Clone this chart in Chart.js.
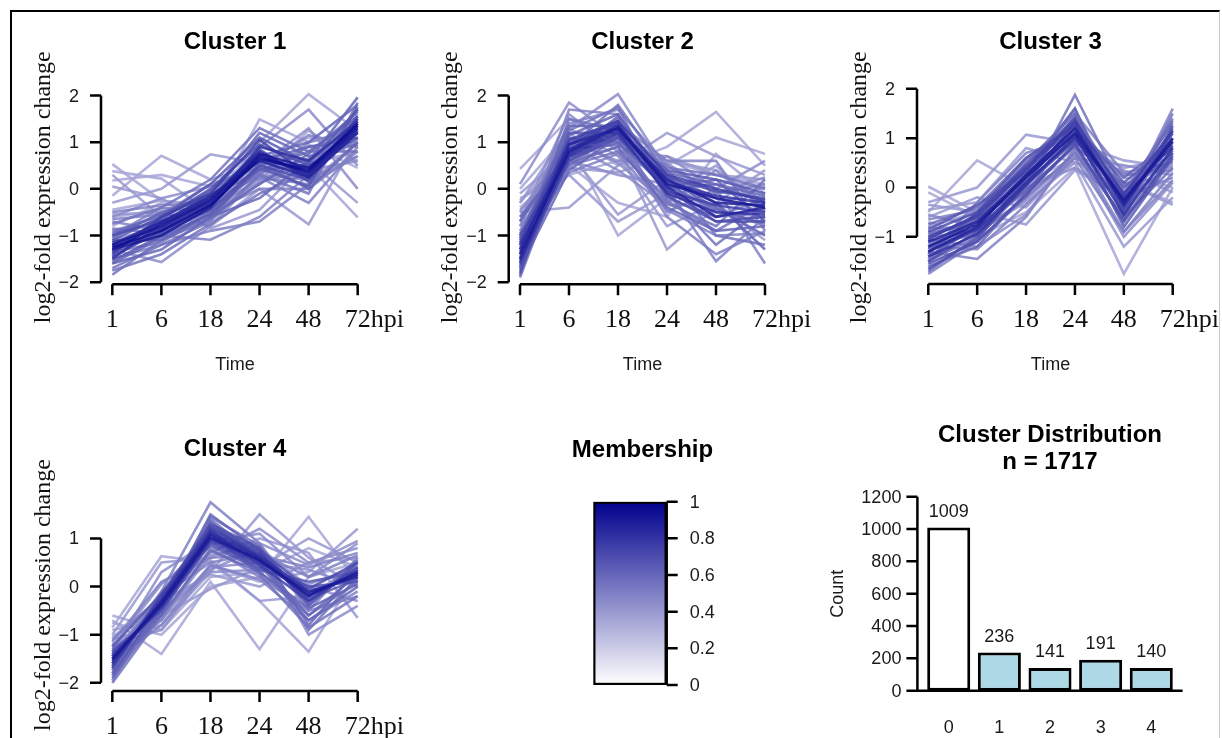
<!DOCTYPE html>
<html>
<head>
<meta charset="utf-8">
<script src="https://cdn.jsdelivr.net/npm/chart.js@4.4.0/dist/chart.umd.min.js"></script>
<style>
  body { margin: 0; background: #fff; }
  #page { position: relative; width: 1222px; height: 738px; overflow: hidden; background: #fff; }
  #page canvas { position: absolute; left: 0; top: 0; }
  #frame { position: absolute; left: 10px; top: 10px; width: 1207px; height: 760px;
           border-left: 2px solid #000; border-top: 2px solid #000; border-right: 1px solid #c8c8c8; }
</style>
</head>
<body>
<div id="page">
  <div id="frame"></div>
  <canvas id="c1" width="1222" height="738"></canvas>
  <canvas id="c2" width="1222" height="738"></canvas>
  <canvas id="c3" width="1222" height="738"></canvas>
  <canvas id="c4" width="1222" height="738"></canvas>
  <canvas id="cbar" width="1222" height="738"></canvas>
  <canvas id="cdist" width="1222" height="738"></canvas>
</div>
<script>
// time points (hours post inoculation)
const timeLabels = ['1', '6', '18', '24', '48', '72hpi'];

// cluster profiles, one row per gene: log2 fold change at each time point
const cluster1Profiles = [
  [0.53, -0.25, -0.35, 0.15, 0.55, 0.8],
  [0.38, 0.22, -0.5, 0.1, 0.95, 0.45],
  [0.3, -0.6, -0.05, 0.4, 0.2, 0.7],
  [0.18, 0.3, 0.05, 0.3, 1.25, 0.6],
  [0.05, -0.2, -0.85, -0.45, 0.6, 1.2],
  [-0.15, 0.71, 0.2, 0.55, 1.1, 0.9],
  [-0.3, 0.0, 0.74, 0.55, 0.5, 1.05],
  [-0.45, -0.25, -0.4, 1.49, 1.0, 1.2],
  [-0.6, -0.45, -0.3, 1.0, 2.03, 1.25],
  [-0.55, -0.5, -0.8, 0.0, -0.76, 1.1],
  [-0.8, -0.3, -0.6, 0.2, 0.5, -0.61],
  [-1.0, -0.7, -0.4, 0.7, 0.6, -0.3],
  [-0.9, -0.6, -0.1, 0.5, 1.3, 0.0],
  [-1.1, -0.8, -0.3, 0.9, 1.7, 0.5],
  [-1.3, -1.57, -0.8, 0.3, 0.2, 1.4],
  [-1.2, -1.0, -1.09, -0.6, 0.3, 1.6],
  [-1.5, -1.2, -0.9, -0.7, 0.1, 1.0],
  [-1.84, -1.1, -0.5, 0.4, 0.5, 1.5],
  [-1.6, -1.3, -0.6, -0.2, 0.6, 1.96],
  [-0.7, -0.9, -0.2, 0.25, -0.3, 0.9],
  [-1.0, -0.4, -0.5, 0.0, 0.0, 0.8],
  [-1.4, -0.9, -0.15, 0.6, 0.9, 1.1],
  [-1.1, -0.6, 0.1, 1.1, 0.55, 1.7],
  [-1.25, -0.95, -0.35, 0.85, 0.15, 1.45],
  [-1.35, -0.7, -0.25, 0.6, 0.45, 1.2],
  [-1.15, -0.85, -0.3, 0.75, 0.3, 1.35],
  [-1.3, -0.75, -0.2, 0.8, 0.25, 1.25],
  [-1.2, -0.8, -0.25, 0.7, 0.35, 1.3],
  [-1.45, -0.9, -0.45, 0.5, 0.2, 1.55],
  [-1.0, -0.65, 0.0, 0.95, 0.5, 1.1],
  [-1.55, -1.0, -0.55, 0.45, 0.05, 1.75],
  [-0.95, -0.55, -0.1, 1.2, 0.7, 0.95],
  [-1.7, -1.2, -0.7, 0.3, -0.1, 1.85],
  [-0.75, -0.4, 0.2, 1.3, 0.8, 0.8],
  [-1.25, -0.9, -0.35, 0.65, 0.4, 1.4],
  [-0.5, -0.35, -0.3, 0.3, 0.9, 1.0],
  [-0.65, -0.55, 0.1, 0.45, 1.15, 0.9],
  [-1.6, -1.05, -0.6, 0.1, 0.75, 1.65],
  [-0.85, -0.95, -0.45, 0.35, 0.65, 1.3],
  [-1.4, -0.6, -0.1, 1.05, 0.3, 1.5],
  [-1.1, -1.1, -0.65, 0.55, 0.0, 1.0],
  [-1.5, -0.75, -0.3, 0.9, 0.6, 1.45],
  [-1.2, -0.7, -0.15, 0.6, 0.25, 1.2],
  [-1.3, -1.0, -0.4, 0.75, 0.45, 1.35],
  [-0.6, -0.2, 0.05, 0.2, 1.0, 1.3],
  [-1.75, -1.4, -0.75, -0.1, 0.35, 1.7],
  [-1.05, -0.5, -0.2, 0.4, 0.8, 1.55],
  [-1.35, -1.15, -0.5, 0.25, 0.1, 0.7],
  [-0.9, -0.75, -0.55, 0.15, 0.4, 0.6],
  [-1.45, -0.85, -0.05, 0.7, 1.0, 1.8]
];
const cluster1Membership = [0.35, 0.35, 0.4, 0.35, 0.4, 0.35, 0.4, 0.35, 0.35, 0.4, 0.35, 0.4, 0.45, 0.45, 0.45, 0.5, 0.5, 0.55,
  0.6, 0.5, 0.5, 0.6, 0.65, 0.7, 0.75, 0.8, 0.85, 0.9, 0.7, 0.7, 0.65, 0.6, 0.55, 0.55, 0.95,
  0.5, 0.5, 0.6, 0.55, 0.75, 0.6, 0.8, 0.85, 0.9, 0.45, 0.55, 0.6, 0.5, 0.45, 0.6];

const cluster2Profiles = [
  [0.43, 1.5, 1.0, 0.6, 0.3, 0.1],
  [0.1, 1.85, 1.1, 0.3, -0.2, -0.5],
  [0.0, 1.2, 0.5, 0.9, 1.65, 0.5],
  [-0.2, 0.3, 0.6, 0.5, 1.1, 0.75],
  [-0.3, 1.0, -1.0, -0.2, 0.2, 0.0],
  [-0.4, 0.5, -0.3, -0.6, 0.75, -0.1],
  [-0.1, 0.8, -0.55, 0.2, -0.3, 0.4],
  [-0.6, 0.3, -0.7, -0.1, 0.5, -0.5],
  [-0.5, -0.4, 0.5, 1.2, 0.7, 0.3],
  [-0.8, 0.6, 0.9, -1.3, -0.4, -0.8],
  [-0.7, 1.6, 0.8, 0.7, 0.0, 0.6],
  [-1.0, 1.3, 2.03, 0.4, -0.6, -0.2],
  [-1.2, 1.7, 1.6, 0.0, -1.55, -0.6],
  [-1.5, 0.5, 1.2, -0.5, 0.0, -1.6],
  [-1.9, 0.9, 1.8, 0.3, -1.0, -1.2],
  [-1.6, 0.7, 1.4, 0.6, 0.6, -0.9],
  [-1.3, 1.1, 1.0, -0.3, -0.8, 0.2],
  [-0.9, 0.9, 1.5, -0.1, -1.2, -0.4],
  [-1.7, 0.4, 1.1, 0.2, -0.4, -1.0],
  [-1.4, 0.8, 1.3, 0.1, -0.2, -0.4],
  [-1.5, 0.85, 1.35, 0.05, -0.6, -0.4],
  [-1.2, 0.75, 1.25, 0.15, -0.15, -0.3],
  [-1.6, 0.95, 1.4, -0.05, -0.35, -0.5],
  [-1.0, 0.65, 1.15, 0.25, -0.05, -0.2],
  [-1.8, 1.0, 1.45, -0.15, -0.7, -0.7],
  [-1.1, 1.2, 1.2, 0.4, 0.2, -0.1],
  [-0.6, 0.7, 1.0, 0.0, 0.1, -0.3],
  [-1.35, 0.55, 0.9, -0.4, -0.9, -0.8],
  [-0.8, 1.4, 1.7, 0.5, -0.1, 0.1],
  [-1.45, 0.6, 0.3, 0.1, -0.5, -0.6],
  [-0.3, 1.3, 0.7, -0.8, -0.3, -1.1],
  [-1.25, 1.1, 0.55, -0.3, 0.4, -0.3],
  [-1.75, 0.75, 1.55, 0.25, -0.3, -1.3],
  [-0.45, 0.45, 0.35, 0.7, 0.3, 0.2],
  [-1.05, 0.95, 1.05, -0.6, -1.4, -0.9],
  [-1.3, 0.95, 1.3, 0.2, -0.3, -0.35],
  [-1.55, 0.7, 1.2, -0.1, -0.5, -0.55],
  [-1.15, 1.05, 1.45, 0.3, 0.0, -0.25],
  [-1.65, 0.6, 1.1, 0.0, -0.7, -0.6],
  [-0.7, 0.85, 0.95, 0.35, 0.1, -0.15],
  [-1.85, 1.15, 1.6, 0.1, -0.45, -0.75],
  [-0.95, 0.5, 0.8, -0.2, -0.6, -0.45],
  [-1.4, 1.5, 1.25, 0.45, 0.3, 0.0],
  [-0.5, 1.0, 0.6, 0.55, -0.1, 0.25],
  [-1.2, 0.35, 0.75, -0.45, -1.0, -0.95],
  [-1.7, 1.25, 1.75, -0.25, -0.9, -0.3],
  [-0.25, 0.6, 1.15, 0.6, 0.4, -0.45],
  [-1.05, 1.35, 1.35, 0.05, 0.2, -0.7],
  [-1.5, 0.95, 0.4, -0.35, -0.35, 0.05]
];
const cluster2Membership = [0.35, 0.45, 0.35, 0.35, 0.35, 0.35, 0.4, 0.4, 0.4, 0.4, 0.45, 0.45, 0.5, 0.5, 0.55, 0.5, 0.55, 0.55,
  0.6, 0.9, 0.85, 0.8, 0.75, 0.7, 0.7, 0.65, 0.6, 0.6, 0.5, 0.45, 0.4, 0.45, 0.6, 0.4, 0.5,
  0.85, 0.8, 0.75, 0.7, 0.6, 0.6, 0.55, 0.55, 0.45, 0.5, 0.55, 0.4, 0.6, 0.45];

const cluster3Profiles = [
  [0.02, -0.5, 0.1, 0.6, 0.3, 0.0],
  [-0.1, -0.6, 0.0, 0.5, 0.1, -0.3],
  [-0.35, -0.5, 0.4, 0.9, 0.55, 0.4],
  [-0.5, 0.55, 0.0, 0.8, 0.2, 0.1],
  [-0.3, 0.0, 1.07, 0.9, 0.4, 0.6],
  [-0.8, -0.5, -0.75, 0.35, -0.2, 0.2],
  [-0.7, -1.0, -0.5, 0.4, -1.75, 0.0],
  [-1.0, -0.9, -0.3, 0.5, -1.2, -0.2],
  [-0.6, -0.2, -0.4, 0.6, 0.1, -0.35],
  [-0.9, -0.7, 0.5, 1.5, 0.3, 0.5],
  [-1.3, -1.45, -0.6, 0.8, -0.9, 0.3],
  [-1.75, -1.1, -0.2, 1.4, -0.4, 1.6],
  [-1.5, -1.0, 0.0, 1.88, -0.1, 1.3],
  [-1.4, -0.8, 0.3, 1.6, -0.6, 1.2],
  [-1.2, -0.75, 0.2, 1.1, -0.26, 0.93],
  [-1.1, -0.7, 0.25, 1.2, -0.3, 1.0],
  [-1.3, -0.85, 0.1, 1.0, -0.2, 0.85],
  [-1.0, -0.6, 0.35, 1.3, -0.4, 1.1],
  [-1.5, -0.9, 0.05, 0.95, -0.1, 0.7],
  [-0.9, -0.5, 0.45, 1.4, -0.5, 1.25],
  [-1.25, -0.65, 0.15, 1.15, -0.8, 0.6],
  [-1.6, -1.2, -0.1, 0.85, 0.0, 0.8],
  [-0.75, -0.4, 0.6, 1.25, 0.2, 0.95],
  [-1.15, -0.95, -0.2, 0.7, -0.6, 0.4],
  [-1.45, -0.55, 0.5, 1.5, -0.15, 1.4],
  [-0.55, -0.8, -0.1, 0.6, 0.45, 0.25],
  [-1.05, -1.2, -0.55, 0.75, -1.0, 0.1],
  [-1.35, -0.3, 0.7, 1.0, 0.0, 0.5],
  [-0.85, -0.35, 0.3, 1.05, -0.45, 0.75],
  [-1.65, -1.05, 0.1, 1.3, -0.35, 1.15],
  [-0.45, -0.3, 0.8, 0.5, 0.35, -0.1],
  [-1.2, -0.6, 0.0, 0.4, -0.2, 0.2],
  [-1.3, -0.8, 0.25, 1.2, -0.35, 1.0],
  [-1.4, -0.95, 0.05, 1.05, -0.55, 0.8],
  [-1.05, -0.55, 0.4, 1.35, -0.15, 1.15],
  [-1.55, -1.1, -0.15, 0.9, -0.7, 0.65],
  [-0.95, -0.7, 0.1, 0.95, 0.05, 0.55],
  [-1.7, -1.0, 0.2, 1.45, -0.3, 1.35],
  [-0.65, -0.45, 0.55, 1.1, 0.25, 0.35],
  [-1.2, -1.25, -0.35, 0.6, -0.9, 0.15],
  [-1.5, -0.65, 0.35, 1.6, -0.45, 1.5],
  [-0.8, -0.9, -0.25, 0.65, -0.25, 0.45],
  [-1.35, -0.5, 0.6, 1.25, 0.1, 0.9],
  [-1.1, -0.85, -0.05, 0.85, -0.65, 0.7]
];
const cluster3Membership = [0.35, 0.35, 0.4, 0.35, 0.4, 0.4, 0.35, 0.4, 0.4, 0.5, 0.5, 0.5, 0.55, 0.6, 0.9, 0.85,
  0.8, 0.75, 0.7, 0.7, 0.65, 0.6, 0.6, 0.55, 0.55, 0.45, 0.45, 0.5, 0.65, 0.7, 0.4, 0.45,
  0.85, 0.8, 0.75, 0.7, 0.6, 0.6, 0.5, 0.5, 0.55, 0.45, 0.65, 0.65];

const cluster4Profiles = [
  [-0.6, -0.9, 0.2, 0.3, 0.8, 0.4],
  [-0.7, -1.4, 0.1, -1.3, 0.2, 0.5],
  [-0.85, 0.63, 0.5, -0.3, -1.35, 0.3],
  [-0.75, -1.0, 0.0, 0.2, 1.45, 0.1],
  [-1.0, 0.5, 0.6, 1.0, 0.7, -0.65],
  [-1.2, -0.6, -0.05, 0.4, 1.0, 0.5],
  [-1.1, -0.8, 0.3, 1.5, 0.6, 0.0],
  [-0.9, -0.7, 0.45, 0.1, 0.3, 1.2],
  [-1.3, -0.5, 0.35, 0.8, 0.0, -0.3],
  [-1.4, -0.2, 0.7, 1.2, 0.5, 0.8],
  [-1.6, -0.1, 1.75, 0.9, -0.5, 0.6],
  [-1.8, -0.4, 1.4, 0.6, -0.9, 0.2],
  [-2.0, -0.6, 1.2, 0.3, -0.6, 0.1],
  [-1.5, -0.35, 1.05, 0.55, -0.15, 0.25],
  [-1.55, -0.3, 1.1, 0.6, -0.2, 0.3],
  [-1.45, -0.4, 1.0, 0.5, -0.1, 0.2],
  [-1.65, -0.2, 1.2, 0.7, -0.3, 0.4],
  [-1.35, -0.5, 0.9, 0.4, 0.0, 0.1],
  [-1.7, -0.25, 1.3, 0.8, -0.4, 0.5],
  [-1.25, -0.15, 0.85, 0.35, 0.1, 0.3],
  [-1.9, -0.55, 1.15, 0.45, -0.7, 0.0],
  [-1.15, 0.1, 0.6, 0.65, 0.4, 0.7],
  [-1.5, -0.7, 0.8, 0.2, -0.5, -0.2],
  [-1.35, 0.3, 0.95, 1.1, 0.2, 0.9],
  [-1.75, -0.45, 1.5, 0.75, -0.8, 0.35],
  [-1.05, -0.3, 0.25, 0.0, 0.5, 0.6],
  [-1.6, -0.65, 0.65, 0.85, -1.0, -0.4],
  [-1.2, -0.9, 0.4, 0.5, 0.35, 0.0],
  [-1.45, -0.1, 0.55, -0.3, -0.2, 0.45],
  [-1.85, -0.3, 1.25, 0.6, -0.25, 0.15],
  [-1.5, -0.4, 1.0, 0.55, -0.2, 0.3],
  [-1.6, -0.3, 1.15, 0.65, -0.1, 0.2],
  [-1.4, -0.45, 0.95, 0.45, -0.3, 0.35],
  [-1.7, -0.15, 1.25, 0.75, -0.05, 0.5],
  [-1.3, -0.6, 0.75, 0.3, -0.45, 0.05],
  [-1.8, -0.5, 1.35, 0.5, -0.6, 0.25],
  [-1.1, -0.2, 0.5, 0.7, 0.2, 0.65],
  [-1.55, -0.8, 0.45, 0.15, -0.7, -0.1],
  [-1.95, -0.35, 1.45, 0.85, -0.35, 0.55],
  [-1.25, 0.05, 0.9, 0.9, 0.45, 0.95],
  [-1.65, -0.55, 0.3, 0.35, 0.05, 0.4],
  [-1.45, -0.25, 1.1, 0.25, -0.85, -0.2]
];
const cluster4Membership = [0.35, 0.35, 0.35, 0.35, 0.4, 0.4, 0.4, 0.4, 0.45, 0.45, 0.5, 0.55, 0.55, 0.9, 0.85,
  0.8, 0.75, 0.7, 0.7, 0.65, 0.6, 0.5, 0.5, 0.45, 0.6, 0.4, 0.45, 0.45, 0.4, 0.65,
  0.85, 0.8, 0.75, 0.7, 0.6, 0.6, 0.5, 0.5, 0.55, 0.45, 0.45, 0.55];

// membership colour key
const membershipTicks = [0, 0.2, 0.4, 0.6, 0.8, 1];

// cluster distribution
const distCategories = ['0', '1', '2', '3', '4'];
const distCounts = [1009, 236, 141, 191, 140];
const distTicks = [0, 200, 400, 600, 800, 1000, 1200];
const distTotal = 1717;

const SANS = '"Liberation Sans", Arial, sans-serif';
const SERIF = '"Liberation Serif", "Times New Roman", serif';

// white -> navy by membership
function memberColor(m, a = 0.85) {
  const r = Math.round(255 - m * 255);
  const b = Math.round(255 - m * (255 - 140));
  return `rgba(${r},${r},${b},${a})`;
}

// R base-graphics style axes drawn from the chart's own scales
const rAxesPlugin = {
  id: 'rAxes',
  afterDraw(chart, args, o) {
    const ctx = chart.ctx;
    const area = chart.chartArea;
    const xs = chart.scales.x, ys = chart.scales.y;
    const cx = (area.left + area.right) / 2;
    ctx.save();
    ctx.strokeStyle = '#000';
    ctx.lineWidth = 2.5;

    (o.titles || []).forEach(t => {
      ctx.font = t.font || `bold 24px ${SANS}`;
      ctx.fillStyle = '#000';
      ctx.textAlign = 'center';
      ctx.textBaseline = 'middle';
      ctx.fillText(t.text, t.x !== undefined ? t.x : cx, t.y);
    });

    if (o.yAxis) {
      const a = o.yAxis;
      const right = a.side === 'right';
      const ax = right ? area.right : area.left - a.offset;
      const dir = right ? 1 : -1;
      const p = a.values.map(v => ys.getPixelForValue(v));
      ctx.beginPath();
      ctx.moveTo(ax, Math.min(...p));
      ctx.lineTo(ax, Math.max(...p));
      p.forEach(py => { ctx.moveTo(ax, py); ctx.lineTo(ax + dir * 11, py); });
      ctx.stroke();
      ctx.font = `18px ${SANS}`;
      ctx.fillStyle = '#1a1a1a';
      ctx.textAlign = right ? 'left' : 'right';
      ctx.textBaseline = 'middle';
      p.forEach((py, i) => ctx.fillText(a.labels[i], ax + dir * a.gap, py + 1));
    }

    if (o.xAxis) {
      const a = o.xAxis;
      const p = a.values.map(v => xs.getPixelForValue(v));
      const ay = area.bottom;
      ctx.beginPath();
      ctx.moveTo(p[0], ay);
      ctx.lineTo(p[p.length - 1], ay);
      p.forEach(px => { ctx.moveTo(px, ay); ctx.lineTo(px, ay + 11); });
      ctx.stroke();
      ctx.font = `26px ${SERIF}`;
      ctx.fillStyle = '#111';
      ctx.textBaseline = 'alphabetic';
      ctx.textAlign = 'left';
      p.forEach((px, i) => {
        const lab = a.labels[i];
        const num = lab.match(/^\d+/)[0];
        ctx.fillText(lab, px - ctx.measureText(num).width / 2, ay + 42.5);
      });
    }

    if (o.yTitle) {
      ctx.save();
      ctx.translate(area.left - 59, (area.top + area.bottom) / 2 + 2);
      ctx.rotate(-Math.PI / 2);
      ctx.font = `24px ${SERIF}`;
      ctx.fillStyle = '#111';
      ctx.textAlign = 'center';
      ctx.textBaseline = 'middle';
      ctx.fillText(o.yTitle, 0, 0);
      ctx.restore();
    }

    if (o.xTitle) {
      ctx.font = `18px ${SANS}`;
      ctx.fillStyle = '#1a1a1a';
      ctx.textAlign = 'center';
      ctx.textBaseline = 'middle';
      ctx.fillText(o.xTitle, cx, area.bottom + 81);
    }

    if (o.bars) {
      // barplot: left axis, baseline, category and count labels
      const b = o.bars;
      const ax = area.left - 6;
      const p = b.ticks.map(v => ys.getPixelForValue(v));
      ctx.beginPath();
      ctx.moveTo(ax, Math.min(...p));
      ctx.lineTo(ax, Math.max(...p));
      p.forEach(py => { ctx.moveTo(ax, py); ctx.lineTo(ax - 11, py); });
      const y0 = ys.getPixelForValue(0);
      ctx.moveTo(ax - 11, y0);
      ctx.lineTo(area.right + 6, y0);
      ctx.stroke();
      ctx.font = `18px ${SANS}`;
      ctx.fillStyle = '#1a1a1a';
      ctx.textAlign = 'right';
      ctx.textBaseline = 'middle';
      p.forEach((py, i) => ctx.fillText(String(b.ticks[i]), ax - 16, py + 1));
      ctx.textAlign = 'center';
      const meta = chart.getDatasetMeta(0);
      meta.data.forEach((bar, i) => {
        ctx.fillText(String(chart.data.datasets[0].data[i]), bar.x, bar.y - 16);
        ctx.fillText(chart.data.labels[i], bar.x, y0 + 37);
      });
      ctx.save();
      ctx.translate(838, (area.top + area.bottom) / 2);
      ctx.rotate(-Math.PI / 2);
      ctx.fillText(b.yTitle, 0, 0);
      ctx.restore();
    }
    ctx.restore();
  }
};

function baseOptions(padding, yMin, yMax, rAxes, xScale) {
  return {
    responsive: false,
    animation: false,
    events: [],
    layout: { padding },
    plugins: { legend: { display: false }, tooltip: { enabled: false }, rAxes },
    scales: {
      x: Object.assign({ display: false }, xScale),
      y: { type: 'linear', display: false, min: yMin, max: yMax }
    }
  };
}

function clusterChart(id, title, profiles, membership, cfg) {
  const datasets = profiles.map((vals, i) => ({
    data: vals.map((v, k) => ({ x: k, y: v })),
    borderColor: memberColor(membership[i]),
    borderWidth: 2.6,
    pointRadius: 0,
    tension: 0,
    order: 1 - membership[i]
  }));
  const ticks = cfg.yTicks;
  return new Chart(document.getElementById(id), {
    type: 'line',
    data: { datasets },
    options: baseOptions(cfg.padding, cfg.yMin, cfg.yMax, {
      titles: [{ text: title, y: cfg.titleY }],
      yAxis: { values: ticks, labels: ticks.map(v => v < 0 ? '\u2212' + Math.abs(v) : String(v)), offset: 1.5, gap: 22 },
      xAxis: { values: timeLabels.map((t, i) => i), labels: timeLabels },
      yTitle: 'log2-fold expression change',
      xTitle: cfg.showTime ? 'Time' : null
    }, { type: 'linear', min: -0.2, max: 5.2 }),
    plugins: [rAxesPlugin]
  });
}

clusterChart('c1', 'Cluster 1', cluster1Profiles, cluster1Membership, {
  padding: { left: 102.5, right: 854.5, top: 86.2, bottom: 453.7 },
  yMin: -2.045, yMax: 2.2, yTicks: [2, 1, 0, -1, -2], titleY: 42, showTime: true
});
clusterChart('c2', 'Cluster 2', cluster2Profiles, cluster2Membership, {
  padding: { left: 510.2, right: 447.2, top: 86.2, bottom: 453.7 },
  yMin: -2.045, yMax: 2.2, yTicks: [2, 1, 0, -1, -2], titleY: 42, showTime: true
});
clusterChart('c3', 'Cluster 3', cluster3Profiles, cluster3Membership, {
  padding: { left: 918.5, right: 39.5, top: 86.4, bottom: 454 },
  yMin: -1.957, yMax: 2.05, yTicks: [2, 1, 0, -1], titleY: 42, showTime: true
});
clusterChart('c4', 'Cluster 4', cluster4Profiles, cluster4Membership, {
  padding: { left: 102.5, right: 854.5, top: 495.1, bottom: 47 },
  yMin: -2.169, yMax: 1.9, yTicks: [1, 0, -1, -2], titleY: 449, showTime: false
});

// membership colour key as a single floating bar with a gradient fill
new Chart(document.getElementById('cbar'), {
  type: 'bar',
  data: {
    labels: ['membership'],
    datasets: [{
      data: [[membershipTicks[0], membershipTicks[membershipTicks.length - 1]]],
      backgroundColor: (c) => {
        const chart = c.chart;
        if (!chart.chartArea) return '#fff';
        const ys = chart.scales.y;
        const g = chart.ctx.createLinearGradient(0, ys.getPixelForValue(0), 0, ys.getPixelForValue(1));
        membershipTicks.forEach(m => g.addColorStop(m, memberColor(m, 1)));
        return g;
      },
      borderColor: '#000',
      borderWidth: 2.5,
      borderSkipped: false,
      barPercentage: 1,
      categoryPercentage: 1
    }]
  },
  options: baseOptions({ left: 593.3, right: 555.3, top: 501.7, bottom: 53 }, 0, 1, {
    titles: [{ text: 'Membership', x: 642.5, y: 450 }],
    yAxis: { side: 'right', values: membershipTicks, labels: membershipTicks.map(String), gap: 23 }
  }, { type: 'category' }),
  plugins: [rAxesPlugin]
});

// cluster distribution barplot
new Chart(document.getElementById('cdist'), {
  type: 'bar',
  data: {
    labels: distCategories,
    datasets: [{
      data: distCounts,
      backgroundColor: distCategories.map(c => c === '0' ? '#ffffff' : '#add8e6'),
      borderColor: '#000',
      borderWidth: 3,
      borderSkipped: false,
      barPercentage: 0.85,
      categoryPercentage: 1
    }]
  },
  options: baseOptions({ left: 923.4, right: 45.4, top: 496.7, bottom: 47.3 }, 0, 1200, {
    titles: [
      { text: 'Cluster Distribution', y: 435 },
      { text: 'n = ' + distTotal, y: 462 }
    ],
    bars: { ticks: distTicks, yTitle: 'Count' }
  }, { type: 'category' }),
  plugins: [rAxesPlugin]
});
</script>
</body>
</html>
